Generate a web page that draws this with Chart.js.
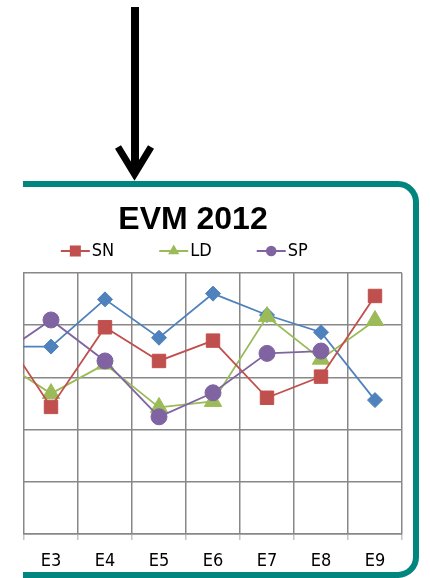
<!DOCTYPE html>
<html>
<head>
<meta charset="utf-8">
<title>EVM 2012</title>
<script src="https://cdn.jsdelivr.net/npm/chart.js@4.4.1/dist/chart.umd.min.js"></script>
<style>
  html, body { margin: 0; padding: 0; background: #fff; width: 430px; height: 578px; overflow: hidden; }
  #arrow { position: absolute; left: 0; top: 0; }
  #clip { position: absolute; left: 23px; top: 0; width: 407px; height: 578px; overflow: hidden; }
  #frame { position: absolute; left: -59px; top: 181px; width: 455px; height: 397px;
           box-sizing: border-box; border: 6px solid #00857f; border-radius: 21px; }
  #wrap { position: absolute; left: -53px; top: 190px; width: 446px; height: 388px; }
  #chart { display: block; }
</style>
</head>
<body>
<svg id="arrow" width="430" height="190" viewBox="0 0 430 190">
  <line x1="135" y1="7" x2="135" y2="172" stroke="#000" stroke-width="8"/>
  <polyline points="118,147 134.5,174 151,147" fill="none" stroke="#000" stroke-width="7" stroke-linejoin="miter" stroke-miterlimit="10"/>
</svg>
<div id="clip">
  <div id="frame"></div>
  <div id="wrap"><canvas id="chart" width="446" height="388"></canvas></div>
</div>
<script>
// Event categories along the x axis
const categories = ['E2', 'E3', 'E4', 'E5', 'E6', 'E7', 'E8', 'E9'];

// Series values
const evValues = [7.18, 7.18, 8.99, 7.52, 9.21, 8.39, 7.73, 5.13];
const snValues = [8.00, 4.87, 7.92, 6.63, 7.41, 5.22, 6.03, 9.12];
const ldValues = [6.72, 5.38, 6.51, 4.85, 5.08, 8.33, 6.70, 8.18];
const spValues = [6.78, 8.20, 6.63, 4.49, 5.41, 6.92, 7.01, null];

// Value axis range and step
const yMin = 0;
const yMax = 10;
const yStep = 2;

// Series that appear in the legend row
const legendNames = ['SN', 'LD', 'SP'];

const narrowFont = "'Liberation Sans Narrow', 'DejaVu Sans Condensed', 'Liberation Sans', sans-serif";
const gridGray = '#888888';

function series(label, data, color, pointStyle, radius, order) {
  return {
    label, data, order,
    borderColor: color,
    backgroundColor: color,
    pointBackgroundColor: color,
    pointBorderColor: color,
    pointBorderWidth: 1,
    pointStyle,
    pointRadius: radius,
    borderWidth: 1.8,
    tension: 0,
    spanGaps: false
  };
}

// Legend row: short line with the series marker, followed by its name
const seriesLegend = {
  id: 'seriesLegend',
  afterDraw(chart, args, opts) {
    const ctx = chart.ctx;
    const items = chart.data.datasets.filter(ds => opts.names.includes(ds.label))
      .sort((a, b) => opts.names.indexOf(a.label) - opts.names.indexOf(b.label));
    ctx.save();
    ctx.font = opts.font;
    ctx.textBaseline = 'middle';
    ctx.textAlign = 'left';
    const widths = items.map(ds => opts.lineLength + opts.textGap + ctx.measureText(ds.label).width);
    const total = widths.reduce((a, b) => a + b, 0) + opts.itemGap * (items.length - 1);
    let x = chart.width / 2 + opts.shiftX - total / 2;
    const y = opts.y;
    items.forEach((ds, i) => {
      ctx.strokeStyle = ds.borderColor;
      ctx.lineWidth = 2;
      ctx.beginPath();
      ctx.moveTo(x, y);
      ctx.lineTo(x + opts.lineLength, y);
      ctx.stroke();
      ctx.fillStyle = ds.pointBackgroundColor;
      ctx.strokeStyle = ds.pointBorderColor;
      Chart.helpers.drawPoint(ctx, {
        pointStyle: ds.pointStyle,
        radius: opts.markerRadius[ds.pointStyle],
        rotation: 0,
        borderWidth: 0
      }, x + opts.lineLength / 2, y);
      ctx.fillStyle = '#000';
      ctx.fillText(ds.label, x + opts.lineLength + opts.textGap, y);
      x += widths[i] + opts.itemGap;
    });
    ctx.restore();
  }
};

new Chart(document.getElementById('chart'), {
  type: 'line',
  data: {
    labels: categories,
    datasets: [
      series('EV', evValues, '#4f81bd', 'rectRot', 7.5, 3),
      series('SN', snValues, '#c0504d', 'rect', 9.5, 0),
      series('LD', ldValues, '#9bbb59', 'triangle', 10, 2),
      series('SP', spValues, '#8064a2', 'circle', 8, 1)
    ]
  },
  options: {
    responsive: false,
    animation: false,
    events: [],
    layout: { padding: 0, autoPadding: false },
    scales: {
      x: {
        type: 'category',
        offset: true,
        grid: {
          offset: true,
          display: true,
          drawTicks: true,
          tickLength: 6,
          lineWidth: 1.5,
          color: c => (c.index === categories.length ? '#c4c4c4' : gridGray),
          tickColor: '#c4c4c4'
        },
        border: { display: true, color: gridGray, width: 1.5 },
        ticks: {
          autoSkip: false,
          maxRotation: 0,
          padding: 11,
          color: '#000',
          font: { family: narrowFont, size: 18 }
        },
        afterFit(scale) {
          scale.height = 44;
          // category labels sit inside their slots, so no side padding is needed
          scale.paddingLeft = 0;
          scale.paddingRight = 0;
        }
      },
      y: {
        position: 'right',
        min: yMin,
        max: yMax,
        ticks: { display: false, stepSize: yStep },
        grid: { drawTicks: false, color: gridGray, lineWidth: 1.5 },
        border: { display: false },
        afterFit(scale) { scale.width = 14; }
      }
    },
    plugins: {
      legend: { display: false },
      tooltip: { enabled: false },
      title: {
        display: true,
        text: 'EVM 2012',
        color: '#000',
        font: { family: "'Liberation Sans', Arial, sans-serif", size: 32, weight: 'bold' },
        padding: { top: 11, bottom: 33.6 }
      },
      seriesLegend: {
        names: legendNames,
        font: "18px " + narrowFont,
        lineLength: 29,
        textGap: 2,
        itemGap: 45,
        shiftX: -8.7,
        y: 61,
        markerRadius: { rect: 7.8, triangle: 6.5, circle: 5.3, rectRot: 6 }
      }
    }
  },
  plugins: [seriesLegend]
});
</script>
</body>
</html>
